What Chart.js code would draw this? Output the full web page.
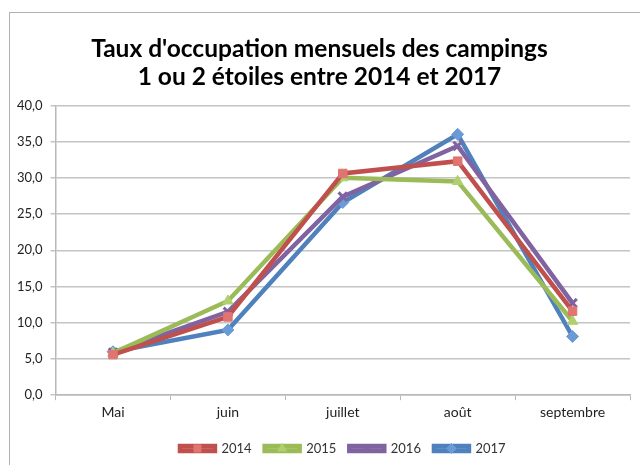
<html>
<head>
<meta charset="utf-8">
<script src="https://cdn.jsdelivr.net/npm/chart.js@4.4.0/dist/chart.umd.min.js"></script>
<style>
  body { margin: 0; background: #fff; }
  #frame {
    position: absolute; left: 9px; top: 12px; width: 660px; height: 470px;
    border: 1px solid #b0b0b0;
  }
  #wrap { position: absolute; left: 0; top: 0; width: 640px; height: 465px; }
</style>
</head>
<body>
<div id="frame"></div>
<div id="wrap"><canvas id="myChart" width="640" height="465"></canvas></div>
<script>
  // data
  var months = ["Mai", "juin", "juillet", "août", "septembre"];
  var years = ["2014", "2015", "2016", "2017"];
  var taux2014 = [5.6, 10.8, 30.6, 32.3, 11.6];
  var taux2015 = [5.8, 13.0, 30.0, 29.5, 10.2];
  var taux2016 = [5.9, 11.5, 27.4, 34.4, 12.7];
  var taux2017 = [6.0, 9.0, 26.6, 36.0, 8.1];

  var lineColors = ["#C0504D", "#9BBB59", "#8064A2", "#4F81BD"];
  var markerFill = ["#E07470", "#AFD06C", "#9479B8", "#6A9BD6"];
  var markers = ["rect", "triangle", "crossRot", "rectRot"];
  var allData = [taux2014, taux2015, taux2016, taux2017];

  var datasets = years.map(function (y, i) {
    return {
      label: y,
      data: allData[i],
      borderColor: lineColors[i],
      backgroundColor: markerFill[i],
      borderWidth: 4.5,
      pointStyle: markers[i],
      pointRadius: 6,
      pointBorderWidth: i == 2 ? 3 : 1,
      pointBorderColor: i == 2 ? lineColors[i] : markerFill[i],
      fill: false,
      tension: 0
    };
  });

  // draw a marker over each legend line, like the spreadsheet legend
  var legendMarkers = {
    id: "legendMarkers",
    afterDraw: function (chart) {
      var lg = chart.legend;
      if (!lg || !lg.legendHitBoxes) return;
      var ctx = chart.ctx;
      var bw = chart.options.plugins.legend.labels.boxWidth;
      lg.legendHitBoxes.forEach(function (box, i) {
        var ds = chart.data.datasets[i];
        ctx.save();
        ctx.fillStyle = ds.backgroundColor;
        ctx.strokeStyle = ds.pointBorderColor;
        ctx.lineWidth = ds.pointBorderWidth;
        Chart.helpers.drawPoint(ctx, {pointStyle: ds.pointStyle, radius: 5, borderWidth: ds.pointBorderWidth},
          box.left + bw / 2, box.top + box.height / 2);
        ctx.restore();
      });
    }
  };

  var ctx = document.getElementById('myChart').getContext('2d');
  var chart = new Chart(ctx, {
    type: "line",
    data: { labels: months, datasets: datasets },
    plugins: [legendMarkers],
    options: {
      responsive: false,
      animation: false,
      layout: { padding: { left: 9, right: 10, top: 35, bottom: 0 } },
      plugins: {
        title: {
          display: true,
          text: ["Taux d'occupation mensuels des campings", "1 ou 2 étoiles entre 2014 et 2017"],
          color: "#000",
          font: { family: "Lato", size: 24.5, weight: "bold", lineHeight: 1.15 },
          padding: { top: 0, bottom: 14 }
        },
        legend: {
          position: "bottom",
          fullSize: false,
          title: { display: true, text: " ", font: { size: 1, lineHeight: 1 }, padding: { top: 0, bottom: 3 } },
          labels: {
            color: "#333",
            font: { family: "Lato", size: 13 },
            boxWidth: 35,
            boxHeight: 5,
            padding: 13
          }
        },
        tooltip: { enabled: false }
      },
      scales: {
        x: {
          offset: true,
          grid: { display: true, drawOnChartArea: false, offset: true, color: "#b8b8b8", tickLength: 5 },
          border: { color: "#b8b8b8", width: 1.5 },
          ticks: { color: "#222", font: { family: "Lato", size: 14 }, padding: 4 }
        },
        y: {
          min: 0,
          max: 40,
          ticks: {
            stepSize: 5,
            color: "#222",
            font: { family: "Lato", size: 13 },
            padding: 8,
            callback: function (v) { return v.toFixed(1).replace('.', ','); }
          },
          grid: { color: "#c4c4c4", lineWidth: 1.5, tickLength: 5 },
          border: { color: "#b8b8b8", width: 1.5 }
        }
      }
    }
  });
</script>
</body>
</html>
